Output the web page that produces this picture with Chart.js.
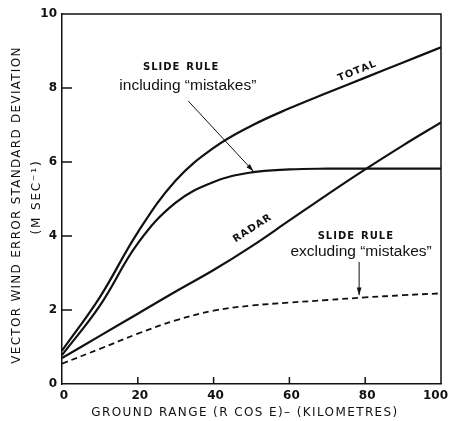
<!DOCTYPE html>
<html>
<head>
<meta charset="utf-8">
<script src="https://cdn.jsdelivr.net/npm/chart.js@4"></script>
<style>
  html, body { margin:0; padding:0; background:#fff; }
  #wrap { width:449px; height:421px; position:relative; }
</style>
</head>
<body>
<div id="wrap"><canvas id="chart"></canvas></div>
<script>
// ground range (km) and the four curves
const ranges      = [0, 10, 20, 30, 40, 50, 60, 70, 80, 90, 100];
const totalErr    = [0.9, 2.35, 4.1, 5.5, 6.38, 6.98, 7.45, 7.87, 8.28, 8.69, 9.1];
const slideIncl   = [0.78, 2.12, 3.8, 4.9, 5.46, 5.72, 5.8, 5.82, 5.82, 5.82, 5.82];
const radarErr    = [0.7, 1.3, 1.9, 2.5, 3.08, 3.72, 4.42, 5.12, 5.8, 6.45, 7.07];
const slideExcl   = [0.55, 0.95, 1.36, 1.72, 1.98, 2.12, 2.2, 2.27, 2.34, 2.4, 2.45];
const xTicks = [0, 20, 40, 60, 80, 100];
const yTicks = [0, 2, 4, 6, 8, 10];
const xTitle = 'GROUND RANGE (R COS E)\u2013 (KILOMETRES)';
const yTitle = ['VECTOR WIND ERROR STANDARD DEVIATION', '(M SEC\u207B\u00B9)'];

const pts = arr => arr.map((v,i) => ({x: ranges[i], y: v}));
const FONT = '"DejaVu Sans", sans-serif';

// labels, arrows, inner tick marks, axis titles and the frame
const decor = {
  id:'decor',
  afterDatasetsDraw(chart){
    const {ctx, chartArea:a, scales:{x, y}, width} = chart;
    const X = v => x.getPixelForValue(v), Y = v => y.getPixelForValue(v);
    ctx.save();
    ctx.strokeStyle = '#111'; ctx.lineWidth = 1.5;
    ctx.beginPath();
    ctx.moveTo(a.left, a.top); ctx.lineTo(a.right, a.top); ctx.lineTo(a.right, a.bottom);
    yTicks.slice(1,-1).forEach(v => { ctx.moveTo(a.left, Y(v)); ctx.lineTo(a.left+10, Y(v)); });
    xTicks.slice(1,-1).forEach(v => { ctx.moveTo(X(v), a.bottom); ctx.lineTo(X(v), a.bottom-7); });
    ctx.stroke();

    ctx.fillStyle = '#111';
    // x tick labels, the last one kept inside the canvas
    ctx.font = 'bold 12px ' + FONT; ctx.textBaseline = 'middle'; ctx.textAlign = 'center';
    xTicks.forEach(v => {
      const s = String(v), w = ctx.measureText(s).width;
      const cx = Math.min(X(v) + 2, width - 1 - w / 2);
      ctx.fillText(s, cx, a.bottom + 12);
    });

    const txt = (s, vx, vy, font, rot=0) => {
      ctx.save(); ctx.translate(X(vx), Y(vy)); ctx.rotate(rot*Math.PI/180);
      ctx.font = font; ctx.textAlign = 'center'; ctx.textBaseline = 'middle';
      ctx.fillText(s, 0, 0); ctx.restore();
    };
    const caps = 'bold 10px ' + FONT;
    const lower = '15.5px "Liberation Sans Narrow", "Liberation Sans", sans-serif';
    const sp = s => s.split('').join('\u200A');
    txt(sp('SLIDE') + '  ' + sp('RULE'), 31.3, 8.55, caps);
    txt('including \u201cmistakes\u201d', 33.2, 8.05, lower);
    txt(sp('TOTAL'), 77.8, 8.45, caps, -22);
    txt(sp('RADAR'), 50.2, 4.2, caps, -33);
    txt(sp('SLIDE') + '  ' + sp('RULE'), 77.4, 4.0, caps);
    txt('excluding \u201cmistakes\u201d', 78.9, 3.57, lower);

    const arrow = (x0,y0,x1,y1) => {
      const px0=X(x0), py0=Y(y0), px1=X(x1), py1=Y(y1);
      const ang = Math.atan2(py1-py0, px1-px0);
      ctx.lineWidth = 1;
      ctx.beginPath(); ctx.moveTo(px0,py0); ctx.lineTo(px1,py1); ctx.stroke();
      ctx.beginPath();
      ctx.moveTo(px1,py1);
      ctx.lineTo(px1-8*Math.cos(ang-0.3), py1-8*Math.sin(ang-0.3));
      ctx.lineTo(px1-8*Math.cos(ang+0.3), py1-8*Math.sin(ang+0.3));
      ctx.closePath(); ctx.fill();
    };
    arrow(33.3, 7.65, 50.5, 5.75);
    arrow(78.4, 3.3, 78.4, 2.4);

    // spaced-out axis titles stretched to the width used in the figure
    const spaced = (s, cx, cy, w0, rot) => {
      ctx.save(); ctx.translate(cx, cy); ctx.rotate(rot);
      ctx.font = '12px ' + FONT; ctx.letterSpacing = '0px';
      const w = ctx.measureText(s).width;
      ctx.letterSpacing = Math.max(0, (w0 - w) / (s.length - 1)) + 'px';
      ctx.textAlign = 'center'; ctx.textBaseline = 'middle';
      ctx.fillText(s, 0, 0); ctx.restore();
    };
    spaced(xTitle, 245, a.bottom + 29, 306, 0);
    spaced(yTitle[0], 17, 205, 316, -Math.PI/2);
    spaced(yTitle[1], 37, 197, 73, -Math.PI/2);
    ctx.restore();
  }
};

const line = (data, dash) => ({
  data: pts(data), borderColor:'#111', borderWidth: dash ? 1.8 : 2.2,
  borderDash: dash ? [6,4] : [], pointRadius:0, fill:false, tension:0.4
});

new Chart(document.getElementById('chart'), {
  type:'line',
  data:{ datasets:[ line(totalErr), line(slideIncl), line(radarErr), line(slideExcl, true) ] },
  options:{
    responsive:true, maintainAspectRatio:false, animation:false,
    layout:{ padding:{ top:14, right:8, left:0, bottom:0 } },
    plugins:{ legend:{display:false}, tooltip:{enabled:false} },
    scales:{
      x:{
        type:'linear', min:0, max:100,
        afterBuildTicks: s => { s.ticks = xTicks.map(v => ({value:v})); },
        afterFit: s => { s.height = 37; s.paddingLeft = 0; s.paddingRight = 0; },
        grid:{ display:false, drawTicks:false }, border:{ display:true, color:'#111', width:1.5 },
        ticks:{ display:false }
      },
      y:{
        min:0, max:10,
        afterBuildTicks: s => { s.ticks = yTicks.map(v => ({value:v})); },
        afterFit: s => { s.width = 62; s.paddingTop = 0; s.paddingBottom = 0; },
        grid:{ display:false, drawTicks:false }, border:{ display:true, color:'#111', width:1.5 },
        ticks:{ color:'#111', padding:5, font:{ family:FONT, size:12, weight:'bold' } }
      }
    }
  },
  plugins:[decor]
});
</script>
</body>
</html>
